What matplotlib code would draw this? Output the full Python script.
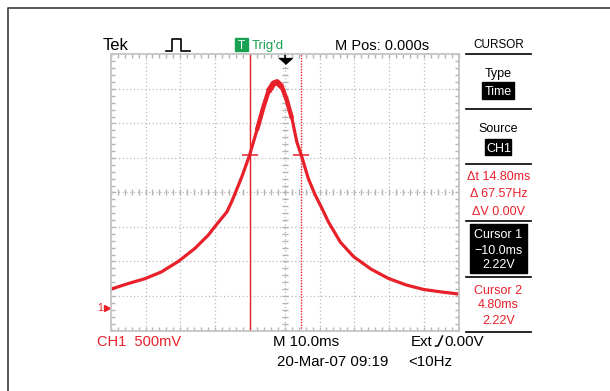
import matplotlib
matplotlib.use('Agg')
import matplotlib.pyplot as plt
from matplotlib.patches import Rectangle
from matplotlib.ticker import MultipleLocator, FixedLocator
import numpy as np

plt.rcParams['font.family'] = ['Liberation Sans', 'DejaVu Sans']

# CH1 trace (time in ms, volts)
time_ms = [-49.9, -45.0, -40.2, -35.4, -30.6, -25.8, -22.0, -20.0, -16.6, -15.2,
           -12.3, -10.1, -8.0, -6.1, -4.7, -3.2, -2.2, -0.8, 0.6, 2.1,
           3.5, 4.9, 6.8, 8.8, 10.7, 12.6, 16.0, 19.8, 24.8, 29.8,
           34.9, 39.9, 44.8, 49.8]
volts = [0.28, 0.36, 0.43, 0.53, 0.68, 0.87, 1.06, 1.19, 1.40, 1.55,
         1.91, 2.22, 2.58, 2.92, 3.14, 3.26, 3.28, 3.21, 3.02, 2.75,
         2.41, 2.20, 1.88, 1.64, 1.45, 1.25, 0.96, 0.75, 0.57, 0.435,
         0.34, 0.275, 0.24, 0.21]

cursor_t = [-10.0, 4.80]
cursor_v = [2.22, 2.22]

ms_per_div = 10.0
v_per_div = 0.5
ground_div = -3.36

RED = '#e8202a'
GREEN = '#1aa152'
GRID = '#b4b4b4'

W, H = 610, 391
fig = plt.figure(figsize=(W / 100, H / 100), dpi=100)

# overlay in pixel coords for the screen furniture
ov = fig.add_axes([0, 0, 1, 1], zorder=0)
ov.set_xlim(0, W)
ov.set_ylim(H, 0)
ov.axis('off')

# main graticule
gl, gt, gr, gb = 110.7, 54.5, 458.7, 330.5
ax = fig.add_axes([gl / W, 1 - gb / H, (gr - gl) / W, (gb - gt) / H], zorder=1)
ax.patch.set_alpha(0)
y_lo = (-4 - ground_div) * v_per_div
y_hi = (4 - ground_div) * v_per_div
ax.set_xlim(-5 * ms_per_div, 5 * ms_per_div)
ax.set_ylim(y_lo, y_hi)

for s in ax.spines.values():
    s.set_color('#c4c4c4')
    s.set_linewidth(1.3)

ax.xaxis.set_major_locator(MultipleLocator(ms_per_div))
ax.xaxis.set_minor_locator(MultipleLocator(ms_per_div / 5))
yt = [y_lo + k * v_per_div for k in range(9)]
ytm = [y_lo + k * v_per_div / 5 for k in range(41)]
ax.yaxis.set_major_locator(FixedLocator(yt))
ax.yaxis.set_minor_locator(FixedLocator(ytm))
ax.tick_params(which='both', direction='in', length=3, width=1, color=GRID,
               top=True, right=True, labelbottom=False, labelleft=False)

# dotted division lines
xdiv = np.arange(-4, 5) * ms_per_div
ax.vlines(xdiv, y_lo, y_hi, colors=GRID, linewidth=0.9, linestyles=(0, (0.9, 2.1)))
ax.hlines(yt[1:-1], -50, 50, colors=GRID, linewidth=0.9, linestyles=(0, (0.9, 2.1)))

# centre cross ticks
yc = y_lo + 4 * v_per_div
ax.plot(np.arange(-50, 50.1, ms_per_div / 5), [yc] * 51, ls='none', marker='|',
        ms=4.5, mew=1, color=GRID)
ax.plot([0] * 41, ytm, ls='none', marker='_', ms=4.5, mew=1, color=GRID)

# cursors
ax.axvline(cursor_t[0], color=RED, lw=1.0)
ax.axvline(cursor_t[1], color=RED, lw=1.0, ls=(0, (1, 1)))
ax.plot(cursor_t, cursor_v, ls='none', marker='_', ms=11, mew=1.1, color=RED)

# trace (thicker near the peak where the reading jitters)
t = np.array(time_ms)
v = np.array(volts)
ax.plot(t, v, color=RED, lw=2.3, solid_capstyle='round', solid_joinstyle='round')
m = v > 2.55
ax.plot(t[m], v[m], color=RED, lw=3.2, solid_capstyle='butt',
        solid_joinstyle='round')
m = v > 3.05
ax.plot(t[m], v[m], color=RED, lw=4.3, solid_capstyle='butt',
        solid_joinstyle='round')

# trigger position arrow
tr = ax.get_xaxis_transform()
ax.plot([0, 0], [1.0, 0.975], color='black', lw=1.2, transform=tr, clip_on=False)
ax.plot([0], [0.975], marker=[(-1, 0.45), (1, 0.45), (0, -0.45)], ms=9.5,
        color='black', transform=tr, clip_on=False)

# ground marker
yr = ax.get_yaxis_transform()
ax.plot([-0.012], [0], marker='>', ms=4, color=RED, transform=yr, clip_on=False)
ax.text(-0.022, 0, '1', color=RED, fontsize=7.5, ha='right', va='center',
        transform=yr)

# outer frame
ov.plot([8, 8, W], [H, 8, 8], color='#4a4a4a', lw=1.3)

# top line
ov.text(103, 50, 'Tek', fontsize=12, va='baseline')
ov.plot([166, 172, 172, 181, 181, 190], [50.5, 50.5, 38.5, 38.5, 50.5, 50.5],
        color='black', lw=1.2)
ov.add_patch(Rectangle((235, 38), 13, 13, color=GREEN))
ov.text(241.5, 49, 'T', color='white', fontsize=8.5, ha='center', va='baseline')
ov.text(252, 48.5, "Trig'd", color=GREEN, fontsize=9.5, va='baseline')
ov.text(335, 49.5, 'M Pos: 0.000s', fontsize=10.5, va='baseline')

# side menu
cx = 498.5
ov.text(cx, 48.5, 'CURSOR', fontsize=8.5, ha='center', va='baseline')
for y in [54, 109, 164, 221, 277, 332]:
    ov.plot([466, 531], [y, y], color='black', lw=1.2)
ov.text(cx, 77, 'Type', fontsize=9, ha='center', va='baseline')
ov.add_patch(Rectangle((482, 82), 32, 17, color='black'))
ov.text(cx, 95, 'Time', fontsize=9, color='white', ha='center', va='baseline')
ov.text(cx, 132.5, 'Source', fontsize=9, ha='center', va='baseline')
ov.add_patch(Rectangle((485, 139), 26, 16, color='black'))
ov.text(cx, 152.5, 'CH1', fontsize=9, color='white', ha='center', va='baseline')
ov.text(cx, 179.5, 'Δt 14.80ms', fontsize=9, color=RED, ha='center', va='baseline')
ov.text(cx, 197, 'Δ 67.57Hz', fontsize=9, color=RED, ha='center', va='baseline')
ov.text(cx, 215, 'ΔV 0.00V', fontsize=9, color=RED, ha='center', va='baseline')
ov.add_patch(Rectangle((470, 224), 57, 49, color='black'))
ov.text(cx, 238.5, 'Cursor 1', fontsize=9, color='white', ha='center', va='baseline')
ov.text(cx, 253.5, '−10.0ms', fontsize=9, color='white', ha='center', va='baseline')
ov.text(cx, 267.5, '2.22V', fontsize=9, color='white', ha='center', va='baseline')
ov.text(cx, 293.5, 'Cursor 2', fontsize=9, color=RED, ha='center', va='baseline')
ov.text(cx, 308.5, '4.80ms', fontsize=9, color=RED, ha='center', va='baseline')
ov.text(cx, 323.5, '2.22V', fontsize=9, color=RED, ha='center', va='baseline')

# bottom status
ov.text(97, 346, 'CH1  500mV', fontsize=10.5, color=RED, va='baseline')
ov.text(273, 346, 'M 10.0ms', fontsize=10.8, va='baseline')
ov.text(411, 346, 'Ext', fontsize=10.8, va='baseline')
ov.plot([435.5, 438, 442.5], [346, 346, 336], color='black', lw=1.1)
ov.text(444, 346, '0.00V', fontsize=10.8, va='baseline')
ov.text(277, 366, '20-Mar-07 09:19', fontsize=10.8, va='baseline')
ov.text(408, 366, '<10Hz', fontsize=10.8, va='baseline')

fig.savefig('out.png', dpi=100)
